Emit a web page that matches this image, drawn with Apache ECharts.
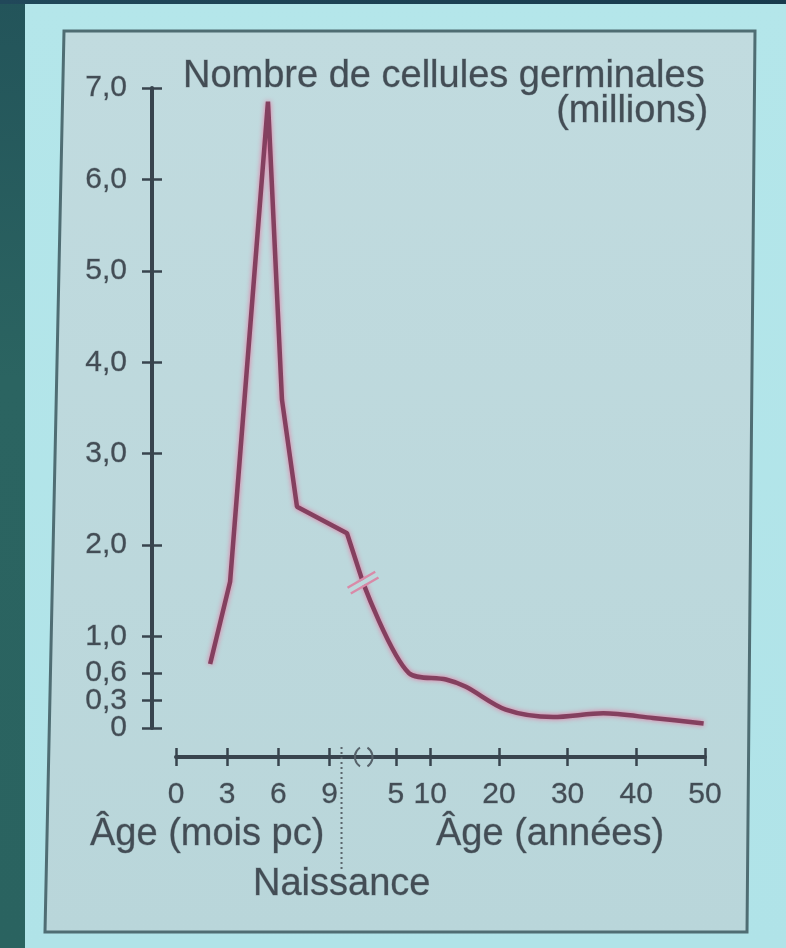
<!DOCTYPE html>
<html>
<head>
<meta charset="utf-8">
<script src="https://cdn.jsdelivr.net/npm/echarts@6/dist/echarts.min.js"></script>
<style>
  html, body { margin:0; padding:0; width:786px; height:948px; overflow:hidden;
    background: linear-gradient(180deg, #b4e6ea 0%, #b0e3e8 100%); }
  #band-left { position:absolute; left:0; top:0; width:25px; height:948px;
    background: linear-gradient(180deg, #23545a 0%, #2b6461 40%, #2a6360 100%); }
  #band-top { position:absolute; left:0; top:0; width:786px; height:4px;
    background: linear-gradient(90deg, #21485a 0%, #183a4c 100%); }
  #chart { position:absolute; left:0; top:0; width:786px; height:948px; }
</style>
</head>
<body>
<div id="band-left"></div>
<div id="band-top"></div>
<div id="chart"></div>
<script>
// ---- data ----
const monthTicks = [0, 3, 6, 9];
const yearTicks = [5, 10, 20, 30, 40, 50];
const yTicks = [0, 0.3, 0.6, 1, 2, 3, 4, 5, 6, 7];
const yTickLabels = ['0', '0,3', '0,6', '1,0', '2,0', '3,0', '4,0', '5,0', '6,0', '7,0'];
// the two crowded small ticks get their labels from their own axes
const yCrowded = [0.3, 0.6];

// prenatal part (age in months post-conception)
const prenatalMonths = [2.0, 3.17, 5.39, 6.21, 7.09, 10.02, 10.96];
const prenatalValues = [0.70, 1.60, 6.85, 3.59, 2.42, 2.13, 1.59];
// postnatal part (age in years)
const postnatalYears = [0.22, 6.9, 12.3, 15.2, 21.0, 27.9, 35.2, 42.4, 49.8];
const postnatalValues = [1.59, 0.60, 0.53, 0.45, 0.20, 0.12, 0.16, 0.11, 0.05];

// curve break (where the two scales join) and birth marker
const curveBreak = { year: 0.22, value: 1.59 };
const birthMonth = 9.7;
const axisBreakMonths = [10.6, 11.4];

const titleText = 'Nombre de cellules germinales';
const unitText = '(millions)';
const xNameMonths = 'Âge (mois pc)';
const xNameYears = 'Âge (années)';
const birthText = 'Naissance';

// ---- styles ----
const FONT = '"Liberation Sans", Arial, sans-serif';
const TXT = '#434d55';
const AX = '#38444e';
const BOXBG = '#bdd8dc';
const GRID = { left: 176, right: 81, top: 88, bottom: 220 };
const W = 786, H = 948;

const chart = echarts.init(document.getElementById('chart'), null, { renderer: 'canvas' });

function titleItem(text, pos) {
  return Object.assign({
    text: text, padding: 0,
    textStyle: { fontFamily: FONT, fontSize: 38, lineHeight: 38, fontWeight: 'normal', color: TXT,
      textBorderColor: 'rgba(67,77,85,0.35)', textBorderWidth: 0.8 }
  }, pos);
}

function xAxisDef(min, max, ticks, withLine, withLabel, inside) {
  return {
    type: 'value', gridIndex: 0, position: 'bottom', offset: 29, min: min, max: max,
    axisLine: { show: withLine, onZero: false, lineStyle: { color: AX, width: 4 } },
    axisTick: { show: true, inside: inside, length: 9, customValues: ticks,
      lineStyle: { color: AX, width: 2.5 } },
    axisLabel: { show: withLabel, customValues: ticks, margin: 23, hideOverlap: false,
      fontFamily: FONT, fontSize: 30, color: TXT,
      textBorderColor: 'rgba(67,77,85,0.35)', textBorderWidth: 0.8 },
    splitLine: { show: false }
  };
}

const yLabelFormatter = function (v) {
  const i = yTicks.indexOf(v); return i >= 0 ? yTickLabels[i] : '';
};

function yAxisDef(opts) {
  return {
    type: 'value', gridIndex: 0, position: 'left', offset: 24, min: 0, max: 7,
    axisLine: { show: !!opts.line, onZero: false, lineStyle: { color: AX, width: 4 } },
    axisTick: { show: !!opts.ticks, inside: !!opts.inside, length: 10, customValues: yTicks,
      lineStyle: { color: AX, width: 2.5 } },
    axisLabel: {
      show: !!opts.labels, customValues: opts.labels || yTicks, margin: 25, hideOverlap: false,
      showMinLabel: true, showMaxLabel: true,
      fontFamily: FONT, fontSize: 30, color: TXT,
      textBorderColor: 'rgba(67,77,85,0.35)', textBorderWidth: 0.8,
      formatter: yLabelFormatter
    },
    splitLine: { show: false }
  };
}

const lineStyle = {
  color: '#84405f', width: 4.5,
  shadowColor: 'rgba(232,110,155,0.95)', shadowBlur: 5
};

const option = {
  animation: false,
  backgroundColor: 'transparent',
  title: [
    titleItem(titleText, { left: 183, top: 58 }),
    titleItem(unitText, { right: 77, top: 93 }),
    titleItem(xNameMonths, { left: 90, top: 816 }),
    titleItem(xNameYears, { left: 436, top: 816 }),
    titleItem(birthText, { left: 253, top: 866 })
  ],
  grid: Object.assign({ containLabel: false }, GRID),
  xAxis: [
    xAxisDef(0, 31, monthTicks, true, true, false),
    xAxisDef(-27, 50, yearTicks, false, true, false),
    xAxisDef(0, 31, monthTicks, false, false, true),
    xAxisDef(-27, 50, yearTicks, false, false, true)
  ],
  yAxis: [
    yAxisDef({ line: true, ticks: true, labels: yTicks.filter(v => yCrowded.indexOf(v) < 0) }),
    yAxisDef({ ticks: true, inside: true }),
    yAxisDef({ labels: [yCrowded[0]] }),
    yAxisDef({ labels: [yCrowded[1]] })
  ],
  series: [
    {
      type: 'line', xAxisIndex: 0, yAxisIndex: 0, symbol: 'none', smooth: false,
      data: prenatalMonths.map((m, i) => [m, prenatalValues[i]]),
      lineStyle: lineStyle, z: 3
    },
    {
      type: 'line', xAxisIndex: 1, yAxisIndex: 0, symbol: 'none', smooth: 0.3,
      data: postnatalYears.map((y, i) => [y, postnatalValues[i]]),
      lineStyle: lineStyle, z: 3,
      markPoint: {
        silent: true, label: { show: false },
        data: [
          { coord: [curveBreak.year, curveBreak.value], symbol: 'rect', symbolSize: [30, 5],
            symbolRotate: 30, itemStyle: { color: BOXBG } },
          { coord: [curveBreak.year, curveBreak.value],
            symbol: 'path://M0,0H30V2.2H0Z M0,6H30V8.2H0Z', symbolSize: [32, 9],
            symbolRotate: 30, itemStyle: { color: '#d98aa8' } }
        ]
      }
    },
    // empty series that only bind the tick/label-only axes to the grid
    { type: 'line', xAxisIndex: 2, yAxisIndex: 1, data: [], silent: true },
    { type: 'line', xAxisIndex: 3, yAxisIndex: 2, data: [], silent: true },
    { type: 'line', xAxisIndex: 2, yAxisIndex: 3, data: [], silent: true }
  ],
  graphic: [
    {
      type: 'polygon', z: -10, silent: true,
      shape: { points: [[64, 31], [755, 31], [747, 932], [45, 932]] },
      style: {
        fill: new echarts.graphic.LinearGradient(0, 0, 0, 1, [
          { offset: 0, color: '#c1dbdf' }, { offset: 1, color: '#b9d6da' }]),
        stroke: '#4f6d73', lineWidth: 3
      }
    }
  ]
};

chart.setOption(option);

// annotations placed through the axes' own scales
const axisY = H - GRID.bottom + 29;
const bx = chart.convertToPixel({ xAxisIndex: 0 }, birthMonth);
const b1 = chart.convertToPixel({ xAxisIndex: 0 }, axisBreakMonths[0]);
const b2 = chart.convertToPixel({ xAxisIndex: 0 }, axisBreakMonths[1]);
chart.setOption({
  graphic: [
    option.graphic[0],
    {
      type: 'line', z: 5, silent: true,
      shape: { x1: bx, y1: axisY - 10, x2: bx, y2: axisY + 112 },
      style: { stroke: '#5a656c', lineWidth: 2, lineDash: [2, 3] }
    },
    {
      type: 'arc', z: 5, silent: true,
      shape: { cx: b1 + 9, cy: axisY, r: 11, startAngle: Math.PI * 0.68, endAngle: Math.PI * 1.32 },
      style: { stroke: '#56626a', lineWidth: 2, fill: null }
    },
    {
      type: 'arc', z: 5, silent: true,
      shape: { cx: b2 - 9, cy: axisY, r: 11, startAngle: -Math.PI * 0.32, endAngle: Math.PI * 0.32 },
      style: { stroke: '#56626a', lineWidth: 2, fill: null }
    }
  ]
});
</script>
</body>
</html>
